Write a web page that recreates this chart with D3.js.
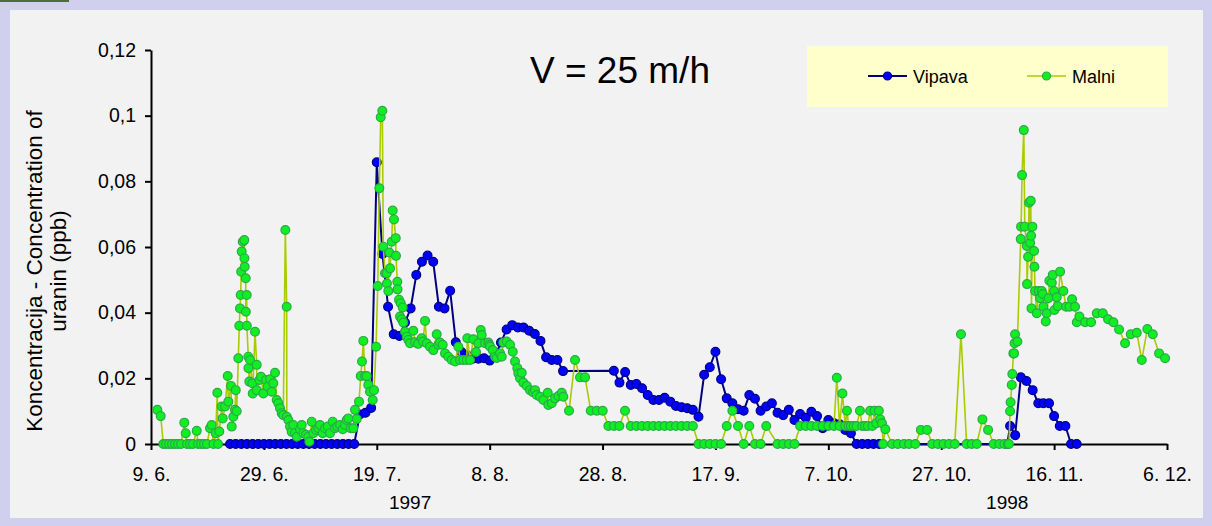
<!DOCTYPE html>
<html>
<head>
<meta charset="utf-8">
<script src="https://cdn.jsdelivr.net/npm/d3@7"></script>
<style>
  body { margin: 0; background: #ffffff; }
  svg { display: block; }
  text { font-family: "Liberation Sans", Arial, sans-serif; fill: #000; }
</style>
</head>
<body>
<svg id="chart" width="1212" height="526"></svg>
<script>
// Days counted from 9. 6.
const xTickDays   = [0, 20, 40, 60, 80, 100, 120, 140, 160, 180];
const xTickLabels = ["9. 6.", "29. 6.", "19. 7.", "8. 8.", "28. 8.", "17. 9.", "7. 10.", "27. 10.", "16. 11.", "6. 12."];
const yTickValues = [0, 0.02, 0.04, 0.06, 0.08, 0.1, 0.12];
const yTickLabels = ["0", "0,02", "0,04", "0,06", "0,08", "0,1", "0,12"];
const yearLabels  = ["1997", "1998"];
const yearDays    = [45.9, 151.7];

const seriesNames = ["Vipava", "Malni"];

// Vipava — sampling day and uranin concentration (ppb)
const vipavaDays = [
  14,15,16,17,18,19,20,21,22,23,24,25,26,27,28,29,30,31,32,33,34,35,36,
  37,38,39,40,41,42,43,44,45,46,47,48,49,50,51,52,53,54,55,56,57,58,59,60,61,62,
  63,64,65,66,67,68,69,70,71,72,73,82,83,84,85,86,87,88,89,90,91,92,93,94,95,96,
  97,98,99,100,101,102,103,104,105,106,107,108,109,110,111,112,113,114,115,116,117,118,
  119,120,121,122,123,124,125,126,127,128,129,151.7,
  152.2,153.1,154.1,155.1,156.2,157.2,158.1,159.1,160,161,162,163,164
];
const vipavaValues = [
  0,0,0,0,0,0,0,0,0,0,0,0,0,0,0,0,0,0,0,0,0,0,0,
  0.009,0.0095,0.011,0.0858,0.0579,0.0418,0.0334,0.0329,0.037,0.0413,0.0515,0.0555,0.0574,0.0555,0.0418,0.0413,0.0467,0.031,0.028,0.027,0.026,0.026,0.0261,0.0254,0.027,0.0309,
  0.0349,0.0362,0.0355,0.0355,0.0345,0.0335,0.0314,0.0264,0.0256,0.0256,0.0222,0.0223,0.0187,0.0219,0.018,0.0183,0.017,0.0149,0.0134,0.0134,0.0141,0.0129,0.0116,0.0112,0.0109,0.0104,
  0.0083,0.0211,0.0234,0.0281,0.0197,0.0139,0.0124,0.0106,0.0101,0.0149,0.0138,0.0101,0.0114,0.0124,0.0095,0.0088,0.0104,0.0073,0.0091,0.008,0.0098,0.0085,
  0.0048,0.0073,0.0063,0.006,0.0043,0.0033,0,0,0,0,0,0,
  0.0055,0.0027,0.0203,0.0192,0.0164,0.0124,0.0124,0.0124,0.0085,0.0055,0.0055,0,0
];

// Malni — sampling day and uranin concentration (ppb)
const malniDays = [
  1.12,1.72,2.18,2.66,3.19,3.72,4.25,4.78,5.32,5.90,6.15,6.38,6.91,7.44,8.10,8.33,8.86,9.39,9.92,10.45,
  10.75,11.07,11.46,11.75,11.87,12.10,12.53,12.70,13.11,13.59,13.70,14.17,14.30,14.58,14.88,15.01,15.18,15.47,15.64,15.77,
  15.89,15.98,16.07,16.25,16.53,16.55,16.60,16.78,16.80,16.96,16.98,17.24,17.26,17.42,17.54,17.95,18.02,18.43,18.73,18.75,
  19.19,19.49,19.90,20.38,20.68,21.08,21.39,21.67,21.97,22.27,22.56,22.86,23.16,23.44,23.80,24.04,24.06,24.33,24.63,24.93,
  25.21,25.51,25.82,26.40,26.70,26.98,27.46,27.87,28.05,28.47,28.76,29.23,29.64,29.94,30.42,30.83,31.31,31.71,32.19,32.60,
  33.01,33.49,33.97,34.37,34.67,34.96,35.38,35.84,36.14,36.45,36.85,37.16,37.38,37.62,37.92,38.22,38.50,38.80,39.28,39.51,
  39.87,40.17,40.45,40.70,40.98,41.16,41.46,41.76,41.80,42.05,42.22,42.35,42.65,42.82,43.05,43.36,43.40,43.64,43.68,43.94,
  44.12,44.24,44.42,44.60,44.70,45.00,45.31,45.59,45.89,46.47,46.78,47.31,47.96,48.19,48.55,48.85,49.43,50.02,50.62,50.90,
  51.20,51.68,52.09,52.68,53.28,53.86,54.45,54.75,55.33,55.94,56.04,56.52,57.11,57.58,57.99,58.42,58.59,59.18,59.76,59.94,
  60.06,60.54,60.95,61.25,61.84,62.14,62.42,63.02,63.61,64.09,64.49,64.90,65.08,65.38,65.68,65.96,66.57,67.15,67.68,68.04,
  68.34,68.92,69.51,70.29,70.39,71.00,71.58,72.17,72.77,73.05,74.06,75.12,76.01,76.90,77.91,78.97,80.03,81.03,82.03,82.98,
  83.98,84.99,86,87,88,89,90,91,92,93,94,95,96,97,98,99,100,101,
  102,103,104,105,106,107,108,109,111,112,113,114,115,116,117,118,119,120,121,
  121.5,122,122.5,123,123.3,123.6,124,124.5,125,125.6,126,126.5,127,127.4,127.8,128.2,128.5,128.95,129.2,129.5,
  129.7,130.1,131.3,132.3,133.4,134.3,135.4,136.4,137.5,138.4,139.4,140.4,141.4,142.4,143.5,144.5,145.4,146.3,147.3,148.3,
  149.3,150.3,151.2,151.8,152.0,152.2,152.29,152.50,152.60,152.78,152.90,152.99,153.08,153.49,154.09,154.15,154.32,154.63,154.80,155.16,
  155.20,155.39,155.56,155.74,155.86,155.92,155.99,156.15,156.45,156.51,156.63,156.93,157.28,157.51,157.81,157.99,158.10,158.52,158.70,158.98,
  159.16,159.59,159.76,159.99,160.05,160.47,160.65,161.06,161.64,162.12,162.71,163.18,163.71,164.02,164.48,165.49,166.55,167.56,168.62,169.56,
  170.50,171.51,172.57,173.58,174.65,175.53,176.52,177.48,178.60,179.66
];
const malniValues = [
  0.0104,0.0085,0,0,0,0,0,0,0,0.0065,0.0033,0,0,0,0.004,0,0,0,0,0.0048,
  0.0058,0,0.0033,0.0156,0,0.0038,0.0114,0.0078,0.0114,0.0207,0.0129,0.0177,0.0053,0.0083,0.0104,0.0164,0.01,0.0261,0.036,0.0413,
  0.0454,0.0525,0.0586,0.0616,0.0621,0.0566,0.054,0.0505,0.0403,0.0454,0.036,0.0266,0.0231,0.019,0.0256,0.0185,0.0154,0.0342,0.0241,0.0164,
  0.0195,0.0205,0.0154,0.0195,0.0175,0.0197,0.0159,0.0185,0.0217,0.0134,0.0124,0.0109,0.0094,0.0088,0.0652,0.0418,0.0083,0.0073,0.0053,0.0037,
  0.0058,0.0033,0.0022,0.0045,0.0058,0.0033,0.0028,0.0022,0.0007,0.0068,0.0033,0.0043,0.0048,0.0058,0.0033,0.0048,0.0053,0.0033,0.0068,0.0048,
  0.0053,0.0058,0.0045,0.0058,0.0073,0.0078,0.0048,0.0048,0.0104,0.0076,0.0129,0.0207,0.0251,0.0314,0.0207,0.0207,0.018,0.0159,0.0134,0.0164,
  0.0296,0.0481,0.0779,0.0995,0.1015,0.0601,0.052,0.052,0.0489,0.0466,0.0583,0.0535,0.0616,0.0711,0.0684,0.0627,0.0573,0.0494,0.0471,0.0439,
  0.0388,0.0429,0.038,0.0416,0.037,0.0342,0.0327,0.0317,0.0307,0.0345,0.031,0.0305,0.0322,0.0312,0.0375,0.0307,0.0296,0.0286,0.0334,0.0302,
  0.0309,0.0302,0.0276,0.0266,0.0256,0.0251,0.0296,0.0256,0.0256,0.0256,0.0322,0.0256,0.0319,0.028,0.0307,0.0347,0.0332,0.0307,0.0309,0.0302,
  0.0297,0.0286,0.0266,0.0262,0.0276,0.0266,0.0309,0.0312,0.0302,0.0281,0.0251,0.0231,0.0215,0.02,0.0217,0.0187,0.0177,0.0164,0.0158,0.0164,
  0.0149,0.0144,0.0134,0.0156,0.0119,0.0124,0.0139,0.0146,0.0156,0.0144,0.0101,0.0256,0.0203,0.0203,0.0101,0.0101,0.0101,0.0055,0.0055,0.0055,
  0.0101,0.0055,0.0055,0.0055,0.0055,0.0055,0.0055,0.0055,0.0055,0.0055,0.0055,0.0055,0.0055,0,0,0,0,0,
  0.0055,0.0101,0.0055,0,0.0055,0,0,0.0055,0,0,0,0,0.0055,0.0055,0.0055,0.0055,0.0055,0.0055,0.0055,
  0.0202,0.0055,0.0154,0.0055,0.0101,0.0055,0.0055,0.0055,0.0055,0.0101,0.0055,0.0055,0.0055,0.0101,0.0055,0.0101,0.0063,0.0101,0.0075,0.0063,
  0,0.0045,0,0,0,0,0,0.0043,0.0043,0,0,0,0,0,0.0334,0,0,0,0.0075,0.0043,
  0,0,0,0,0,0.01,0.0127,0.018,0.0213,0.0276,0.0276,0.0307,0.0334,0.0312,0.0624,0.0662,0.0819,0.0956,0.0662,0.0603,
  0.0487,0.057,0.0735,0.0613,0.0741,0.0634,0.0413,0.0662,0.0588,0.054,0.0466,0.0398,0.0466,0.0444,0.0466,0.0457,0.0418,0.0373,0.0398,0.0444,
  0.0497,0.0491,0.0515,0.0466,0.0408,0.0447,0.042,0.0525,0.0466,0.0418,0.0418,0.0441,0.0418,0.0371,0.0388,0.0371,0.0371,0.0398,0.0398,0.038,
  0.0371,0.0349,0.0307,0.0334,0.0339,0.0256,0.035,0.0334,0.0276,0.0261
];

const W = 1212, H = 526;
const svg = d3.select("#chart");

// Frame: lavender border around a light grey panel
svg.append("rect").attr("x", 0).attr("y", 0).attr("width", W).attr("height", H).attr("fill", "#d0d0ee");
svg.append("rect").attr("x", 0).attr("y", 0).attr("width", 69).attr("height", 2).attr("fill", "#4e6b3f");
svg.append("rect").attr("x", 10).attr("y", 10).attr("width", 1193).attr("height", 508).attr("fill", "#f2f2f2");

const x = d3.scaleLinear().domain([0, 180]).range([151, 1167]);
const y = d3.scaleLinear().domain([0, 0.12]).range([444, 50]);

// Axes
const yAxis = d3.axisLeft(y).tickValues(yTickValues)
  .tickFormat((d, i) => yTickLabels[i]).tickSize(6).tickSizeOuter(0);
const gy = svg.append("g").attr("transform", "translate(151,0)").call(yAxis);
gy.select(".domain").attr("stroke", "#000").attr("stroke-width", 2);
gy.selectAll(".tick line").attr("stroke", "#000").attr("stroke-width", 2);
gy.selectAll(".tick text").attr("x", -15).style("font-size", "19.5px").style("font-family", "Liberation Sans, Arial, sans-serif");

const xAxis = d3.axisBottom(x).tickValues(xTickDays)
  .tickFormat((d, i) => xTickLabels[i]).tickSize(6).tickSizeOuter(0);
const gx = svg.append("g").attr("transform", "translate(0,444)").call(xAxis);
gx.select(".domain").attr("stroke", "#000").attr("stroke-width", 2);
gx.selectAll(".tick line").attr("stroke", "#000").attr("stroke-width", 2);
gx.selectAll(".tick text").attr("y", 23).style("font-size", "19.5px").style("font-family", "Liberation Sans, Arial, sans-serif");

// Year labels under the date axis
svg.selectAll(".year").data(yearLabels).join("text")
  .attr("class", "year")
  .attr("x", (d, i) => x(yearDays[i]))
  .attr("y", 509)
  .attr("text-anchor", "middle")
  .style("font-size", "19px")
  .text(d => d);

// Axis title (two lines, rotated)
const yTitle = svg.append("text")
  .attr("transform", "translate(42,271) rotate(-90)")
  .attr("text-anchor", "middle")
  .style("font-size", "22.5px");
yTitle.append("tspan").attr("x", 0).attr("dy", 0).text("Koncentracija - Concentration of");
yTitle.append("tspan").attr("x", 0).attr("dy", 24).text("uranin (ppb)");

// Chart title
svg.append("text").attr("x", 620).attr("y", 83).attr("text-anchor", "middle")
  .style("font-size", "37px").text("V = 25 m/h");

// Series
const vipava = vipavaDays.map((d, i) => ({ d, v: vipavaValues[i] }));
const malni = malniDays.map((d, i) => ({ d, v: malniValues[i] }));

const line = d3.line().x(p => x(p.d)).y(p => y(p.v));

const styles = {
  Vipava: { line: "#000080", lineWidth: 2, fill: "#0000ff", stroke: "#000080" },
  Malni:  { line: "#a8cc00", lineWidth: 1.6, fill: "#11ee22", stroke: "#2aa84a" }
};

function drawSeries(data, name) {
  const s = styles[name];
  const g = svg.append("g");
  g.append("path").datum(data).attr("d", line)
    .attr("fill", "none").attr("stroke", s.line).attr("stroke-width", s.lineWidth)
    .attr("stroke-linejoin", "round");
  g.selectAll("circle").data(data).join("circle")
    .attr("cx", p => x(p.d)).attr("cy", p => y(p.v)).attr("r", 4.4)
    .attr("fill", s.fill).attr("stroke", s.stroke).attr("stroke-width", 1.2);
}
drawSeries(vipava, "Vipava");
drawSeries(malni, "Malni");

// Legend
const legend = svg.append("g");
legend.append("rect").attr("x", 807).attr("y", 46).attr("width", 361).attr("height", 61).attr("fill", "#ffffcc");
const legendX = [868, 1027];
seriesNames.forEach((name, i) => {
  const s = styles[name];
  const lx = legendX[i];
  legend.append("line").attr("x1", lx).attr("x2", lx + 39).attr("y1", 76).attr("y2", 76)
    .attr("stroke", s.line).attr("stroke-width", s.lineWidth);
  legend.append("circle").attr("cx", lx + 19.5).attr("cy", 76).attr("r", 4)
    .attr("fill", s.fill).attr("stroke", s.stroke).attr("stroke-width", 1.2);
  legend.append("text").attr("x", lx + 45).attr("y", 82.5).style("font-size", "18px").text(name);
});
</script>
</body>
</html>
